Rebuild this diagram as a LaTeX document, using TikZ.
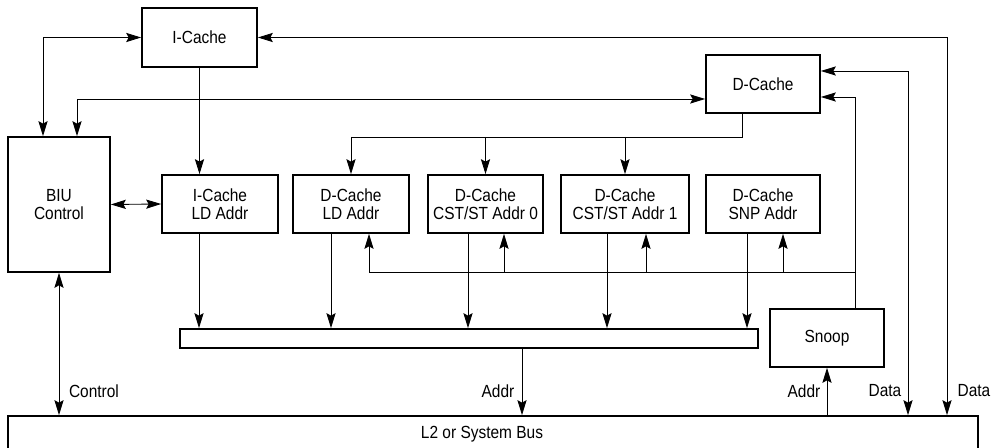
\documentclass[tikz,border=0pt]{standalone}
\usepackage{fontspec}
\setmainfont{Liberation Sans}[FakeStretch=0.88]
\usepackage{tikz}
\usetikzlibrary{arrows.meta}

\begin{document}
\begin{tikzpicture}[x=0.02cm,y=-0.02cm,line width=0.5pt,
>={Stealth[length=8.5pt,width=5.2pt,inset=1.4pt]},
unit/.style={draw,line width=1pt,align=center,inner sep=0pt,minimum height=1.16cm,font=\fontsize{10}{10.4}\selectfont},
regbar/.style={draw,line width=1pt,inner sep=0pt,minimum width=11.56cm,minimum height=0.38cm},
busbox/.style={draw,line width=1pt,inner sep=0pt,minimum width=19.4cm,minimum height=1.4cm},
lbl/.style={inner sep=0pt,font=\fontsize{10}{10.4}\selectfont}]
\useasboundingbox (0,0) rectangle (995,448);
\clip (0,0) rectangle (995,448);

\node [unit,minimum width=2.3cm,minimum height=1.18cm] (icache) at (199.5,37.5) {I-Cache};
\node [unit,minimum width=2.28cm] (dcache) at (763,84) {D-Cache};
\node [unit,minimum width=2.04cm,minimum height=2.7cm] (biu) at (59,204.5) {BIU\\Control};

\node [unit,minimum width=2.32cm] (icld) at (220,204) {I-Cache\\LD Addr};
\node [unit,minimum width=2.32cm] (dcld) at (351,204) {D-Cache\\LD Addr};
\node [unit,minimum width=2.3cm] (cst0) at (485.5,204) {D-Cache\\CST/ST Addr 0};
\node [unit,minimum width=2.56cm] (cst1) at (625,204) {D-Cache\\CST/ST Addr 1};
\node [unit,minimum width=2.28cm] (snp) at (763,204) {D-Cache\\SNP Addr};

\node [regbar] (bar) at (469,338.5) {};
\node [unit,minimum width=2.28cm] (snoop) at (827,338) {Snoop};
\node [busbox] (bus) at (493,451) {};
\node [lbl] (buslbl) at (482,434) {L2 or System Bus};

\coordinate (fan) at (0,137);
\coordinate (fb) at (855,272);

\draw[<->] (icache.west) -| (biu.north -| 43,0);
\draw[<->] (biu.north -| 77,0) |- (dcache.west |- 0,99);
\draw[<->] (icache.east) -| (bus.north -| 947,0);
\draw[<->] (dcache.east |- 0,71) -| (bus.north -| 908,0);
\draw[->] (snoop.north -| fb) |- (dcache.east |- 0,97);
\draw[->] (icache.south) -- (icache.south |- icld.north);
\draw[<->] (biu.east) -- (icld.west);

\draw (dcache.south -| 742,0) |- (fan -| dcld.north);
\foreach \dst in {dcld,cst0,cst1}
    \draw[->] (fan -| \dst.north) -- (\dst.north);

\draw[->] (fb) -| (dcld.south -| 369,0);
\foreach \dst/\xx in {cst0/504,cst1/646,snp/783}
    \draw[->] (fb -| \xx,0) -- (\dst.south -| \xx,0);

\foreach \src/\xx in {icld/199,dcld/331,cst0/468,cst1/607,snp/747}
    \draw[->] (\src.south -| \xx,0) -- (bar.north -| \xx,0);

\draw[->] (bar.south -| 522,0) -- (bus.north -| 522,0);
\draw[->] (bus.north -| snoop.south) -- (snoop.south);
\draw[<->] (biu.south) -- (bus.north -| biu.south);

\node [lbl] (ctrl) at (94,391) {Control};
\node [lbl] (addr1) at (498,391) {Addr};
\node [lbl] (addr2) at (804,391) {Addr};
\node [lbl] (data1) at (885,391) {Data};
\node [lbl] (data2) at (974,391) {Data};
\end{tikzpicture}
\end{document}
